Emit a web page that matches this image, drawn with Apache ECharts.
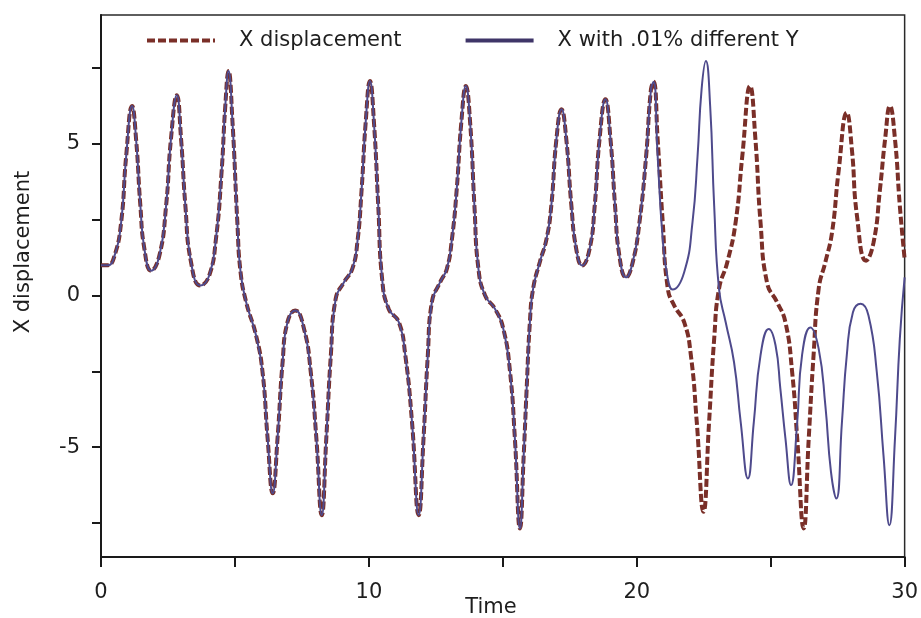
<!DOCTYPE html>
<html>
<head>
<meta charset="utf-8">
<script src="https://cdn.jsdelivr.net/npm/echarts@6/dist/echarts.min.js"></script>
<style>
html,body{margin:0;padding:0;background:#fff;}
#chart{width:921px;height:618px;}
</style>
</head>
<body>
<div id="chart"></div>
<script>
// Shared part (both runs coincide until ~t=20.6)
const sharedT = [0,0.26,0.5,0.75,0.94,1.16,1.31,1.47,1.62,1.87,2.18,2.43,2.61,2.83,2.99,3.15,3.36,3.71,4.04,4.29,4.5,4.64,4.76,4.91,5.09,5.21,5.42,5.79,6.03,6.22,6.41,6.59,6.78,6.96,7.25,7.58,7.83,8.04,8.24,8.41,8.58,8.76,9.07,9.38,9.57,9.73,9.88,10.04,10.19,10.35,10.5,10.74,11.12,11.36,11.61,11.86,12.04,12.2,12.35,12.66,12.91,13.1,13.28,13.45,13.62,13.78,13.94,14.09,14.34,14.71,15.02,15.27,15.45,15.64,15.78,15.89,16.01,16.13,16.38,16.63,16.81,17.0,17.19,17.37,17.56,17.74,17.96,18.24,18.43,18.61,18.83,19.02,19.19,19.35,19.6,19.85,20.1,20.35,20.53,20.63];
const sharedX = [1.0,1.0,1.3,2.4,4.6,6.25,5.15,2.96,1.54,0.82,1.32,2.96,5.15,6.6,5.15,2.96,1.1,0.33,0.66,1.86,4.06,6.25,7.4,5.7,2.41,0.77,-0.22,-1.32,-2.52,-4.71,-6.52,-4.71,-2.19,-0.88,-0.49,-1.1,-2.52,-4.71,-7.24,-4.71,-1.97,-0.11,0.44,0.88,1.75,3.51,5.7,7.07,5.7,2.96,0.5,-0.44,-0.88,-1.97,-4.17,-7.24,-4.71,-1.97,-0.22,0.44,0.88,1.86,3.51,5.7,6.91,5.7,2.96,0.88,0.0,-0.44,-1.1,-2.52,-4.71,-7.68,-5.26,-3.07,-0.88,0.22,1.1,1.86,2.96,5.15,6.14,5.15,2.96,1.54,0.99,1.54,2.96,5.15,6.47,5.15,2.96,1.32,0.6,1.1,2.41,4.6,6.8,7.05];

// "X displacement" after divergence
const baseTailT = [20.78,20.97,21.16,21.4,21.77,22.02,22.24,22.49,22.7,22.89,23.07,23.38,23.69,23.94,24.23,24.43,24.62,24.87,25.24,25.55,25.8,25.99,26.23,26.42,26.6,26.79,27.04,27.29,27.53,27.84,28.03,28.22,28.56,28.84,29.08,29.27,29.45,29.64,29.82,30.0];
const baseTailX = [5.15,2.41,0.22,-0.33,-0.88,-1.97,-4.17,-7.13,-4.17,-1.43,0.22,1.1,2.41,4.6,6.91,5.15,2.41,0.4,-0.22,-0.88,-2.52,-4.71,-7.68,-4.71,-1.97,0.22,1.1,2.08,4.06,6.03,4.82,2.63,1.15,1.75,3.51,5.15,6.25,5.15,2.96,1.2];

// "X with .01% different Y" after divergence
const pertTailT = [20.78,20.97,21.15,21.34,21.77,22.08,22.27,22.42,22.58,22.74,22.89,23.07,23.32,23.63,23.88,24.15,24.37,24.62,24.93,25.18,25.36,25.55,25.76,25.99,26.17,26.48,26.79,27.04,27.25,27.45,27.66,27.84,28.07,28.36,28.65,28.96,29.21,29.43,29.64,29.82,30.0];
const pertTailX = [4.6,1.86,0.6,0.2,0.77,2.41,4.6,6.8,7.73,6.25,2.96,0.22,-0.88,-2.19,-4.17,-6.03,-4.17,-1.97,-1.1,-1.64,-3.07,-4.71,-6.25,-4.17,-1.97,-1.05,-1.75,-3.62,-5.81,-6.69,-4.17,-1.97,-0.55,-0.27,-0.66,-2.52,-5.26,-7.57,-4.71,-1.43,0.6];

const seriesNames = ['X displacement', 'X with .01% different Y'];
const xLabelValues = [0, 10, 20, 30];
const yTickValues = [-7.5, -5, -2.5, 0, 2.5, 5, 7.5];
const yLabelValues = [-5, 0, 5];

function zip(ts, xs) { return ts.map((t, i) => [t, xs[i]]); }
const baseData = zip(sharedT, sharedX).concat(zip(baseTailT, baseTailX));
const pertData = zip(sharedT, sharedX).concat(zip(pertTailT, pertTailX));

const FONT = 'DejaVu Sans';
const TXT = '#1e1e1e';
const chart = echarts.init(document.getElementById('chart'), null, {renderer: 'canvas'});
chart.setOption({
  animation: false,
  backgroundColor: '#ffffff',
  grid: {left: 101, right: 13, top: 15, bottom: 61, show: true, borderColor: '#2a2a2a', borderWidth: 1.5, backgroundColor: 'transparent'},
  legend: {
    left: 140, top: 25,
    itemWidth: 68, itemHeight: 20, itemGap: 62,
    itemStyle: {opacity: 0},
    textStyle: {fontFamily: FONT, fontSize: 21, color: TXT, padding: [0, 0, 0, 19]},
    data: [
      {name: seriesNames[0], lineStyle: {width: 4, color: '#7a2f28', type: [8, 3]}},
      {name: seriesNames[1], lineStyle: {width: 4, color: '#3f3568'}}
    ]
  },
  xAxis: {
    type: 'value', min: 0, max: 30, interval: 5,
    axisLine: {onZero: false, lineStyle: {color: '#1a1a1a', width: 2}},
    axisTick: {show: true, inside: false, length: 10, lineStyle: {color: '#1a1a1a', width: 2}},
    axisLabel: {
      margin: 25, fontFamily: FONT, fontSize: 21, color: TXT,
      customValues: xLabelValues
    },
    splitLine: {show: false}
  },
  yAxis: {
    type: 'value', min: -8.62, max: 9.25,
    axisLine: {show: true, onZero: false, lineStyle: {color: '#1a1a1a', width: 2}},
    axisTick: {show: true, inside: false, length: 9, lineStyle: {color: '#1a1a1a', width: 2}, customValues: yTickValues},
    axisLabel: {margin: 21, fontFamily: FONT, fontSize: 21, color: TXT, customValues: yLabelValues},
    splitLine: {show: false}
  },
  graphic: [
    {type: 'text', x: 24, y: 252, rotation: Math.PI / 2,
     style: {text: 'X displacement', fontFamily: FONT, fontSize: 21, fill: TXT, align: 'center', verticalAlign: 'middle'}},
    {type: 'text', x: 491, y: 608,
     style: {text: 'Time', fontFamily: FONT, fontSize: 21, fill: TXT, align: 'center', verticalAlign: 'middle'}}
  ],
  series: [
    {
      name: seriesNames[0], type: 'line', data: baseData,
      symbol: 'none', smooth: 0.5,
      lineStyle: {color: '#7a2f28', width: 4, type: [8, 3]}, itemStyle: {color: '#7a2f28'},
      z: 2
    },
    {
      name: seriesNames[1], type: 'line', data: pertData,
      symbol: 'none', smooth: 0.5,
      lineStyle: {color: '#4e4a8c', width: 2}, itemStyle: {color: '#4e4a8c'},
      z: 3
    }
  ]
});
</script>
</body>
</html>
